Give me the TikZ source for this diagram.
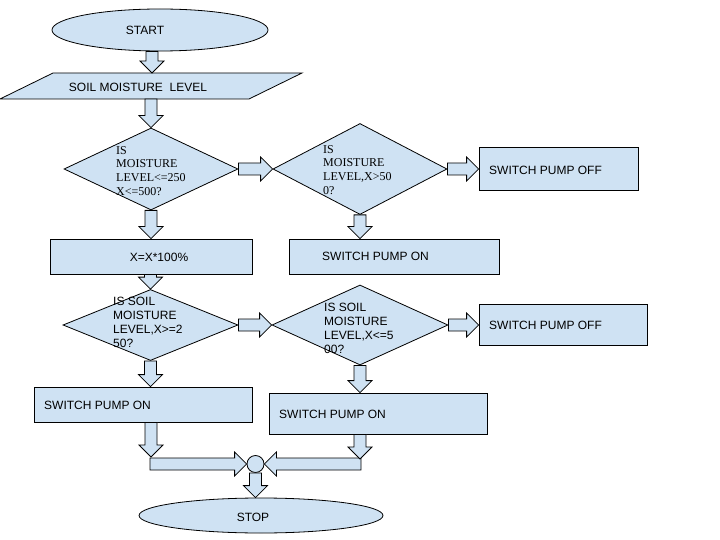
\documentclass[tikz,border=0pt]{standalone}
\usepackage{fontspec}
\setmainfont{Liberation Sans}
\newfontfamily\timesface{Liberation Serif}
\usepackage{tikz}
\usetikzlibrary{shapes.geometric,calc}

\definecolor{flowblue}{RGB}{207,226,243}

% fat outlined arrow from #1 to the tip #2
\newcommand{\blockarrow}[2]{%
  \coordinate (ba-base) at ($(#2)!12pt!(#1)$);
  \draw[blockarr] ($(#1)!6pt!90:(#2)$) -- ($(ba-base)!6pt!90:(#2)$) -- ($(ba-base)!12pt!90:(#2)$) -- (#2) -- ($(ba-base)!12pt!-90:(#2)$) -- ($(ba-base)!6pt!-90:(#2)$) -- ($(#1)!6pt!-90:(#2)$) -- cycle;
}

\begin{document}
\begin{tikzpicture}[x=1pt,y=1pt,yscale=-1,xscale=1,
    shapebox/.style={draw, fill=flowblue, line width=0.8pt, inner sep=0pt},
    terminal/.style={shapebox, ellipse},
    decision/.style={shapebox, diamond},
    process/.style={shapebox, rectangle},
    joint/.style={shapebox, circle, minimum size=17pt},
    blockarr/.style={draw, fill=flowblue, line width=0.8pt, line join=miter},
    boxtext/.style={inner sep=0pt, font=\fontsize{12}{14}\selectfont},
    sanstext/.style={inner sep=0pt, align=left, font=\fontsize{12}{14}\selectfont},
    seriftext/.style={inner sep=0pt, align=left, font=\timesface\fontsize{12}{13.7}\selectfont}]
    \useasboundingbox (0,0) rectangle (720,540);

    %Shape: Ellipse
    \node[terminal, minimum width=216pt, minimum height=42pt] (start) at (160,30) {};
    %Shape: Parallelogram
    \draw[shapebox] (53,73) -- (302,73) -- (249,99) -- (0,99) -- cycle;
    \coordinate (inN) at (152,73);
    \coordinate (inS) at (151,99);
    %Shape: Diamond
    \node[decision, minimum width=174pt, minimum height=82pt] (d1) at (151,169) {};
    \node[decision, minimum width=174pt, minimum height=91pt] (d2) at (360,169) {};
    \node[decision, minimum width=175pt, minimum height=71pt] (d3) at (150.5,325) {};
    \node[decision, minimum width=176pt, minimum height=80pt] (d4) at (360,325) {};
    %Shape: Rectangle
    \node[process, minimum width=159pt, minimum height=43pt] (off1) at (558.5,169) {};
    \node[process, minimum width=210pt, minimum height=35pt] (on1) at (394,256.5) {};
    \node[process, minimum width=202pt, minimum height=35pt] (calc) at (151,256.5) {};
    \node[process, minimum width=168pt, minimum height=41pt] (off2) at (563,325) {};
    \node[process, minimum width=218pt, minimum height=35pt] (on2) at (143,404.5) {};
    \node[process, minimum width=218pt, minimum height=41pt] (on3) at (378,413.5) {};
    %Shape: Circle
    \node[joint] (join) at (255.5,464) {};
    %Shape: Ellipse
    \node[terminal, minimum width=244pt, minimum height=35pt] (stop) at (261,515.5) {};
    \coordinate (ldrop) at (151,457);
    \coordinate (rdrop) at (360,459);
    \coordinate (ltail) at (150,464);
    \coordinate (rtail) at (361,464);

    %Block Arrows
    \blockarrow{start.south -| inN}{inN}
    \blockarrow{inS}{d1.north}
    \blockarrow{d1.south}{d1.south |- calc.north}
    \blockarrow{d1.east}{d2.west}
    \blockarrow{d2.east}{off1.west}
    \blockarrow{d2.south}{d2.south |- on1.north}
    \blockarrow{calc.south -| d3.north}{d3.north}
    \blockarrow{d3.east}{d4.west}
    \blockarrow{d4.east}{off2.west}
    \blockarrow{d3.south}{d3.south |- on2.north}
    \blockarrow{d4.south}{d4.south |- on3.north}
    \blockarrow{ltail}{join.west}
    \blockarrow{rtail}{join.east}
    \blockarrow{on2.south -| ldrop}{ldrop}
    \blockarrow{on3.south -| rdrop}{rdrop}
    \blockarrow{join.south}{join.south |- stop.north}

    % Text Node
    \node[boxtext] (starttext) at (145,30) {START};
    % Text Node
    \node[boxtext] (intext) at (138,87) {SOIL MOISTURE~~LEVEL};
    % Text Node
    \node[seriftext, anchor=north west] (d1text) at (116,146) {IS\\MOISTURE\\LEVEL<=250\\X<=500?};
    % Text Node
    \node[seriftext, anchor=north west] (d2text) at (323,145) {IS\\MOISTURE\\LEVEL,X>50\\0?};
    % Text Node
    \node[boxtext, anchor=west] (off1text) at (489,170) {SWITCH PUMP OFF};
    % Text Node
    \node[boxtext, anchor=west] (on1text) at (322,256) {SWITCH PUMP ON};
    % Text Node
    \node[boxtext] (calctext) at (159,257) {X=X*100\%};
    % Text Node
    \node[sanstext, anchor=north west] (d3text) at (113,297) {IS SOIL\\MOISTURE\\LEVEL,X>=2\\50?};
    % Text Node
    \node[sanstext, anchor=north west] (d4text) at (324,303) {IS SOIL\\MOISTURE\\LEVEL,X<=5\\00?};
    % Text Node
    \node[boxtext, anchor=west] (off2text) at (489,325) {SWITCH PUMP OFF};
    % Text Node
    \node[boxtext, anchor=west] (on2text) at (44,405) {SWITCH PUMP ON};
    % Text Node
    \node[boxtext, anchor=west] (on3text) at (279,414) {SWITCH PUMP ON};
    % Text Node
    \node[boxtext] (stoptext) at (253,517) {STOP};

\end{tikzpicture}
\end{document}
